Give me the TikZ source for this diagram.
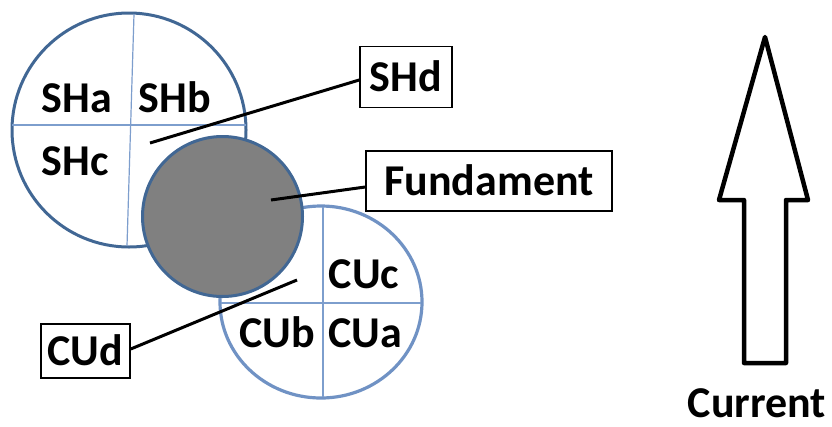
\documentclass[tikz,border=0pt]{standalone}
\usepackage{fontspec}
\setmainfont{Carlito}
\usetikzlibrary{calc,shapes.geometric}
\definecolor{shblue}{RGB}{65,103,148}
\definecolor{cublue}{RGB}{112,146,196}
\definecolor{divblue}{RGB}{125,158,205}
\definecolor{fundgray}{RGB}{128,128,128}
\tikzset{
  lbl/.style={font=\fontsize{44}{52}\selectfont\bfseries, inner sep=0pt, anchor=base},
  tagbox/.style={draw=black, line width=1.5pt, fill=white, font=\fontsize{44}{52}\selectfont\bfseries, inner sep=0pt, text height=28pt, text depth=0pt},
  leader/.style={draw=black, line width=3pt},
  divline/.style={draw=divblue, line width=1.2pt},
}
\begin{document}
\begin{tikzpicture}[x=1pt,y=-1pt]
\useasboundingbox (0,0) rectangle (832,426);
% SH circle
\node[circle, draw=shblue, line width=3pt, fill=white, minimum size=234pt, inner sep=0pt] (sh) at (129,130) {};
\draw[divline] (134,14) -- (127,246);
\draw[divline] (12,125) -- (246,125);
% CU circle
\node[ellipse, draw=cublue, line width=3.2pt, fill=white, minimum width=202pt, minimum height=192pt, inner sep=0pt] (cu) at (321,302) {};
\draw[divline] (323,207) -- (323,397);
\draw[divline] (221,303) -- (421,303);
% Fundament
\node[circle, draw=shblue, line width=3pt, fill=fundgray, minimum size=160pt, inner sep=0pt] (fund) at (222.5,216.5) {};
% labels in circles
\node[lbl] (sha) at (77,112) {SHa};
\node[lbl] (shb) at (175,112) {SHb};
\node[lbl] (shc) at (75,175) {SHc};
\node[lbl] (cuc) at (364,288) {CUc};
\node[lbl] (cub) at (277,347) {CUb};
\node[lbl] (cua) at (365,347) {CUa};
% tag boxes
\node[tagbox, minimum width=92pt, minimum height=61pt] (shd) at (406,77) {SHd};
\node[tagbox, minimum width=246pt, minimum height=60pt] (fundtag) at (489,181) {Fundament};
\node[tagbox, minimum width=89pt, minimum height=54pt] (cud) at (85.5,351) {CUd};
% leader lines
\coordinate (shdpt) at (150,143);
\coordinate (fundpt) at (271,200);
\coordinate (cudpt) at (297,280);
\draw[leader] (shdpt) -- ($(shd.west)+(0,3)$);
\draw[leader] (fundpt) -- ($(fundtag.west)+(0,6)$);
\draw[leader] (cudpt) -- ($(cud.east)+(0,-2)$);
% current arrow
\draw[black, line width=4.5pt, line join=round] (765,37) -- (808,200) -- (786,200) -- (786,363) -- (744,363) -- (744,200) -- (719,200) -- cycle;
\node[lbl] (current) at (757,417) {Current};
\end{tikzpicture}
\end{document}
